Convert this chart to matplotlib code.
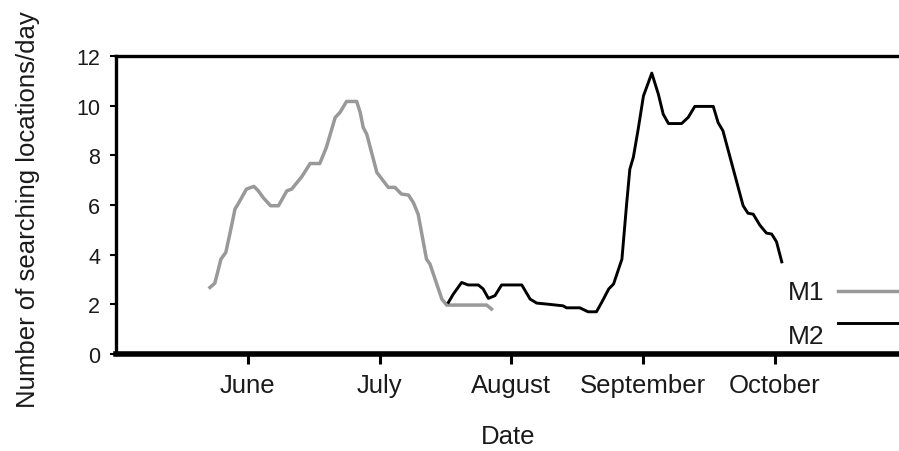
import matplotlib
matplotlib.use("Agg")
import matplotlib.pyplot as plt
from matplotlib.lines import Line2D

plt.rcParams["font.family"] = ["Liberation Sans", "DejaVu Sans"]

# x positions are days counted from 1 May (30-day month units)
months = ["June", "July", "August", "September", "October"]
month_days = [30, 60, 90, 120, 150]

m1_day = [21.4, 22.5, 23.9, 25.0, 26.0, 27.1, 27.8, 29.7, 31.4, 32.4, 33.5,
          35.2, 37.0, 38.9, 40.0, 42.3, 44.2, 46.4, 47.9, 49.9, 51.0, 52.5,
          54.8, 55.6, 56.3, 57.1, 59.4, 62.0, 63.5, 65.0, 66.6, 67.7, 68.8,
          70.7, 71.5, 74.2, 75.3, 84.4, 85.5]
m1_val = [2.68, 2.85, 3.82, 4.09, 4.90, 5.84, 6.04, 6.64, 6.75, 6.57, 6.30,
          5.97, 5.97, 6.57, 6.64, 7.14, 7.67, 7.67, 8.32, 9.52, 9.73, 10.17,
          10.17, 9.73, 9.12, 8.85, 7.31, 6.71, 6.71, 6.44, 6.40, 6.10, 5.63,
          3.82, 3.62, 2.21, 1.97, 1.97, 1.81]

m2_day = [75.7, 76.8, 78.7, 80.2, 82.5, 83.6, 84.8, 86.3, 87.8, 92.4, 94.3,
          95.8, 98.1, 101.8, 102.6, 105.6, 107.5, 109.4, 110.6, 112.2, 113.3,
          115.2, 116.3, 117.0, 117.8, 118.9, 120.1, 122.0, 123.5, 124.6, 125.8,
          128.8, 130.3, 131.8, 136.0, 137.1, 138.2, 142.8, 143.9, 145.1, 146.6,
          148.1, 149.3, 150.4, 151.6]
m2_val = [2.08, 2.41, 2.88, 2.78, 2.78, 2.62, 2.24, 2.35, 2.78, 2.78, 2.21,
          2.05, 2.01, 1.94, 1.86, 1.86, 1.70, 1.70, 2.08, 2.62, 2.82,
          3.82, 6.10, 7.44, 7.92, 9.05, 10.39, 11.31, 10.46, 9.66, 9.28,
          9.28, 9.53, 9.97, 9.97, 9.32, 8.99, 5.97, 5.67, 5.63, 5.19,
          4.87, 4.83, 4.52, 3.71]

y_ticks = [0, 2, 4, 6, 8, 10, 12]

W, H = 899, 452
fig = plt.figure(figsize=(W / 100, H / 100), dpi=100)
ax = fig.add_axes([116 / W, (H - 355) / H, 790.5 / W, 298 / H])

ax.plot(m1_day, m1_val, color="#999999", lw=2.5, solid_joinstyle="round")
ax.plot(m2_day, m2_val, color="black", lw=2.1, solid_joinstyle="round")

ax.set_xlim(0, 180)
ax.set_ylim(0, 12)
ax.set_xticks(month_days)
ax.set_xticklabels(months, fontsize=18.5, color="#1a1a1a")
ax.set_yticks(y_ticks)
ax.set_yticklabels([str(v) for v in y_ticks], fontsize=15.5, color="#1a1a1a")
ax.tick_params(axis="x", direction="out", length=7, width=2.2, pad=7)
ax.tick_params(axis="y", direction="out", length=4.5, width=1.5, pad=7)

for side in ("left", "top", "right"):
    ax.spines[side].set_linewidth(2.4)
ax.spines["bottom"].set_linewidth(4)

fig.text(28 / W, 1 - 210 / H, "Number of searching locations/day",
         rotation=90, ha="center", va="center", fontsize=18.5, color="#1a1a1a")
fig.text(508 / W, 1 - 437 / H, "Date", ha="center", va="center",
         fontsize=18.5, color="#1a1a1a")

# legend entries
fig.text(788 / W, 1 - 293 / H, "M1", ha="left", va="center",
         fontsize=19, color="#1a1a1a")
fig.text(788 / W, 1 - 337 / H, "M2", ha="left", va="center",
         fontsize=19, color="#1a1a1a")
fig.add_artist(Line2D([838 / W, 1.0], [1 - 292 / H, 1 - 292 / H],
                      transform=fig.transFigure, color="#999999", lw=2.5))
fig.add_artist(Line2D([838 / W, 1.0], [1 - 323.5 / H, 1 - 323.5 / H],
                      transform=fig.transFigure, color="black", lw=2.1))

fig.savefig("out.png", dpi=100)
